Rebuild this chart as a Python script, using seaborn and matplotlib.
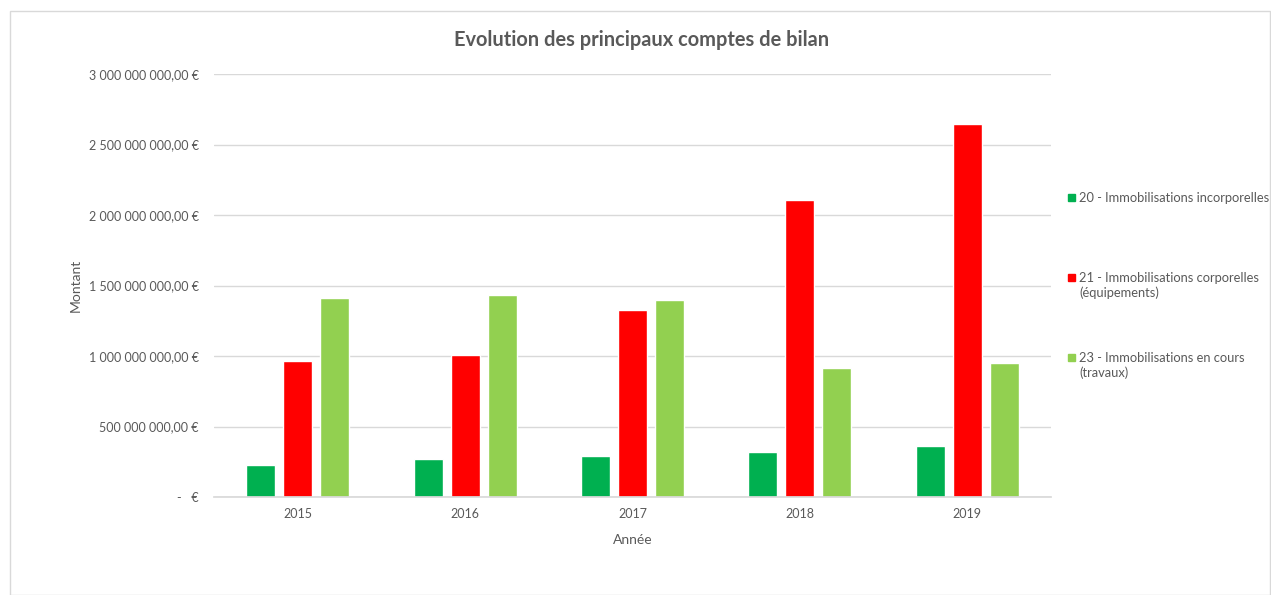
import numpy as np
import pandas as pd
import seaborn as sns
import matplotlib.pyplot as plt
from matplotlib.patches import Rectangle
from matplotlib.ticker import FuncFormatter

# values (euros)
years = ["2015", "2016", "2017", "2018", "2019"]
compte_20 = [230e6, 268e6, 289e6, 320e6, 360e6]
compte_21 = [964e6, 1006e6, 1325e6, 2108e6, 2647e6]
compte_23 = [1413e6, 1434e6, 1400e6, 912e6, 952e6]

series_names = ["20 - Immobilisations incorporelles",
                "21 - Immobilisations corporelles (équipements)",
                "23 - Immobilisations en cours (travaux)"]
legend_labels = ["20 - Immobilisations incorporelles",
                 "21 - Immobilisations corporelles\n(équipements)",
                 "23 - Immobilisations en cours\n(travaux)"]
colors = ["#00b050", "#ff0000", "#92d050"]

df = pd.DataFrame({
    "Année": years * 3,
    "Montant": compte_20 + compte_21 + compte_23,
    "Compte": [series_names[0]] * 5 + [series_names[1]] * 5 + [series_names[2]] * 5,
})

sns.set_theme(style="white")
plt.rcParams['font.family'] = ['Lato', 'DejaVu Sans']
grey = "#595959"

W, H = 1271, 595
fig = plt.figure(figsize=(W / 100, H / 100), dpi=100)
ax = fig.add_axes([214 / W, 98 / H, (1051 - 214) / W, (497 - 74) / H])

sns.barplot(data=df, x="Année", y="Montant", hue="Compte", palette=colors,
            width=0.663, gap=0.22, ax=ax, legend=False, saturation=1)

ax.set_ylim(0, 3e9)
ax.set_yticks(np.arange(0, 3.01e9, 5e8))


def euro(v, pos):
    if v == 0:
        return "-   €"
    s = f"{v:,.2f}".replace(",", " ").replace(".", ",")
    return s + " €"


ax.yaxis.set_major_formatter(FuncFormatter(euro))
ax.grid(axis="y", color="#d9d9d9", linewidth=1)
ax.set_axisbelow(True)
for side in ["top", "right", "left"]:
    ax.spines[side].set_visible(False)
ax.spines["bottom"].set_color("#d9d9d9")
ax.tick_params(axis="both", length=0, colors=grey, labelsize=9)
ax.tick_params(axis="y", pad=11)
ax.tick_params(axis="x", pad=8)
ax.set_ylabel("Montant", color=grey, fontsize=10, labelpad=5)
ax.set_xlabel("Année", color=grey, fontsize=10, labelpad=10)

fig.text(0.505, 1 - 40 / H, "Evolution des principaux comptes de bilan",
         ha="center", va="center", fontsize=14.4, fontweight="bold", color=grey)

# legend drawn by hand so the square sits on the first line, like Excel
legend_y = [197, 277, 357]
for lab, c, y in zip(legend_labels, colors, legend_y):
    fig.patches.append(Rectangle((1068 / W, 1 - (y + 3.5) / H), 7 / W, 7 / H,
                                 transform=fig.transFigure, color=c))
    fig.text(1079 / W, 1 - (y - 5) / H, lab, ha="left", va="top",
             fontsize=9.3, color=grey, linespacing=1.25)

fig.patches.append(Rectangle((10 / W, 0), 1 - 11 / W, 1 - 11 / H,
                             transform=fig.transFigure, fill=False,
                             edgecolor="#d9d9d9", linewidth=1))

plt.savefig("out.png", dpi=100)
